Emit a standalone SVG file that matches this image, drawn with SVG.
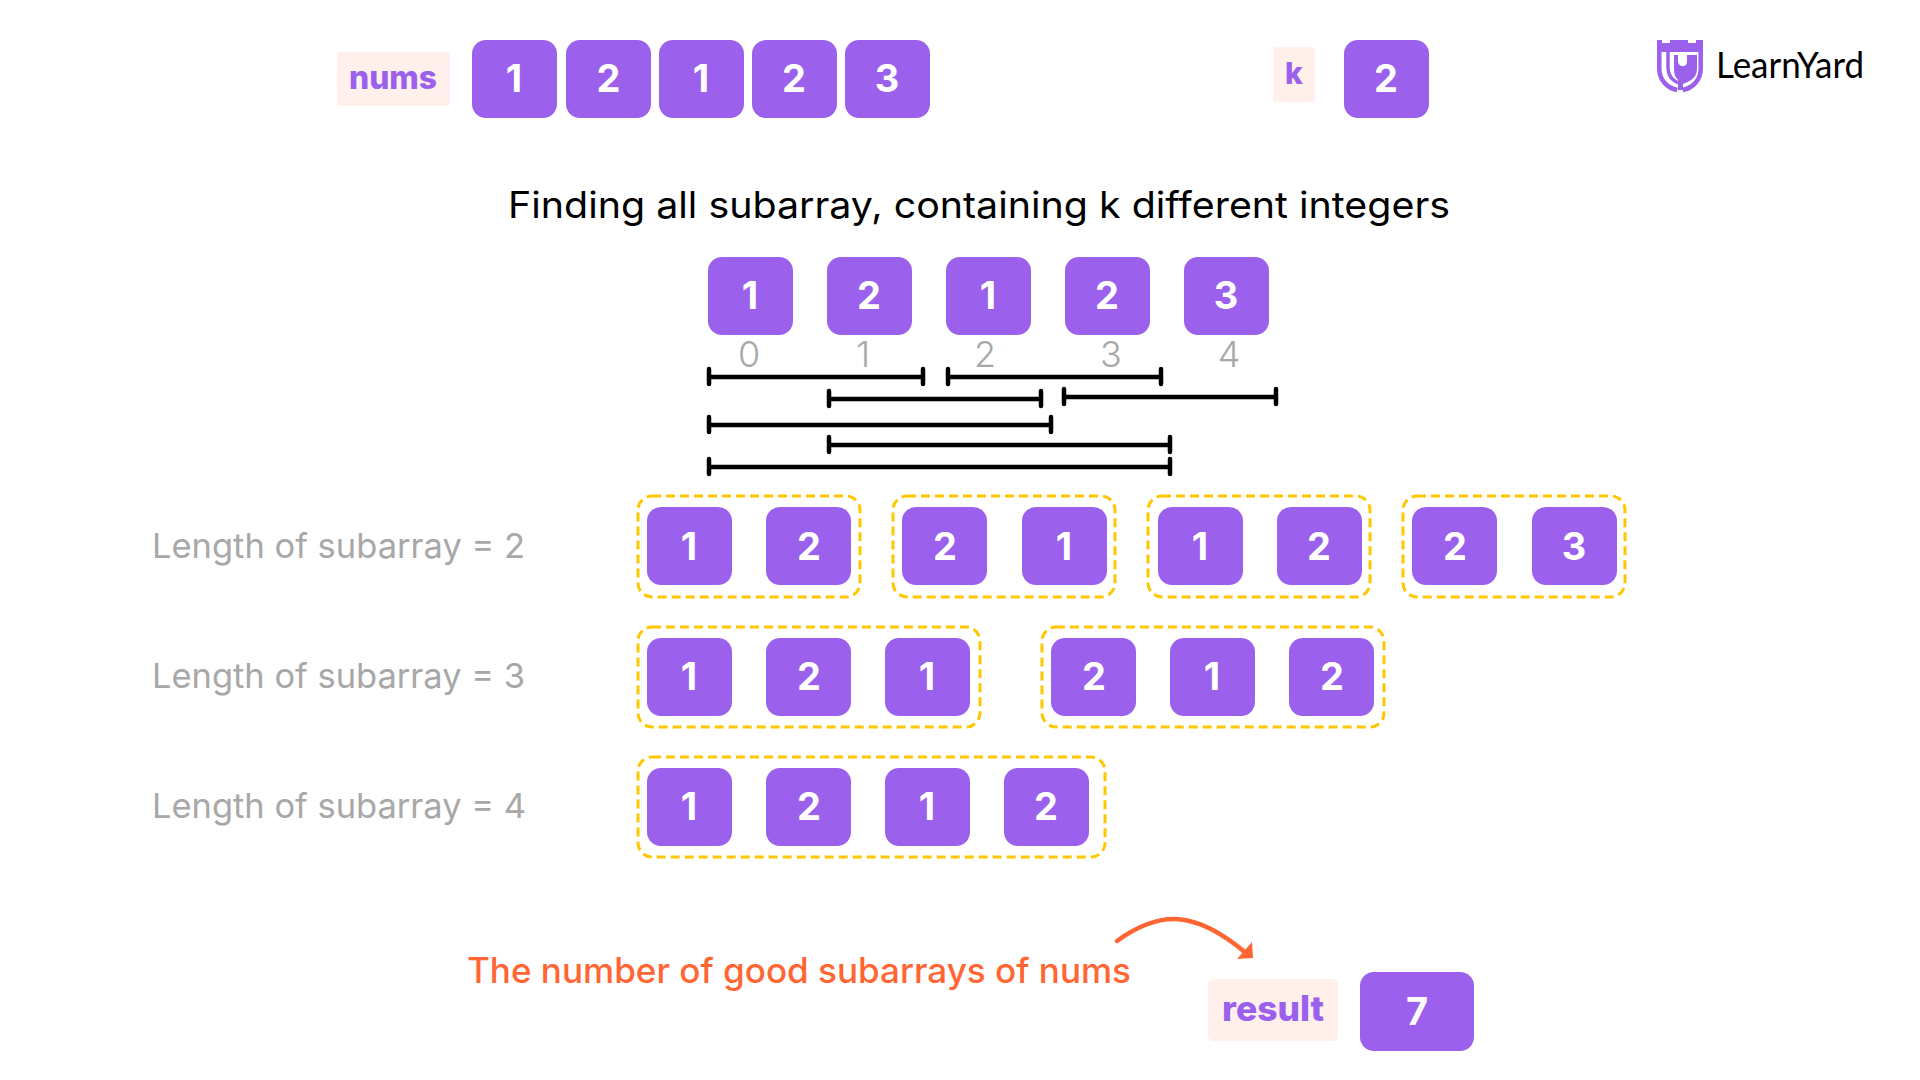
<svg xmlns="http://www.w3.org/2000/svg" width="1920" height="1080" viewBox="0 0 1920 1080">
<defs><style>
.b{fill:#9B60EC}
.d{font:700 38px Inter,"Liberation Sans",sans-serif;fill:#fff;text-anchor:middle}
.l{fill:#FFF0EC}
.t{font-family:Inter,"Liberation Sans",sans-serif;font-weight:800;fill:#9B60EC;text-anchor:middle}
.g{font:400 34px Inter,"Liberation Sans",sans-serif;fill:#A8A8A8}
.i{font:300 36px Inter,"Liberation Sans",sans-serif;fill:#A8A8A8;text-anchor:middle}
.o{fill:none;stroke:#FFC700;stroke-width:3;stroke-dasharray:9 5}
.k{stroke:#000;stroke-width:4.5;stroke-linecap:round;fill:none}
</style></defs>
<g id="nums"><rect class="l" x="337" y="52" width="113" height="54" rx="3"/><text class="t" x="393" y="89" font-size="32" textLength="88" lengthAdjust="spacingAndGlyphs">nums</text></g>
<g id="top-array">
<rect class="b" x="472" y="40" width="85" height="78" rx="14"/><text class="d" x="514" y="92">1</text>
<rect class="b" x="566" y="40" width="85" height="78" rx="14"/><text class="d" x="608.500" y="92">2</text>
<rect class="b" x="659" y="40" width="85" height="78" rx="14"/><text class="d" x="701" y="92">1</text>
<rect class="b" x="752" y="40" width="85" height="78" rx="14"/><text class="d" x="794" y="92">2</text>
<rect class="b" x="845" y="40" width="85" height="78" rx="14"/><text class="d" x="887" y="92">3</text>
</g>
<g id="k"><rect class="l" x="1273" y="47" width="42" height="55" rx="3"/><text class="t" x="1294" y="84" font-size="30">k</text></g>
<g id="k-value"><rect class="b" x="1344" y="40" width="85" height="78" rx="14"/><text class="d" x="1386" y="92">2</text></g>
<g id="logo">
<path fill="#9B60EC" d="M1657 40h5v3h8v-3h18v3h8v-3h7v12h-46z"/>
<path fill="none" stroke="#9B60EC" stroke-width="4.500" d="M1659.300 50v19c0 11 8 19 18 21M1700.700 50v19c0 11-8 19-18 21"/>
<path fill="none" stroke="#9B60EC" stroke-width="3.500" d="M1668 52v16c0 7 4 12 10 15"/>
<path fill="#9B60EC" d="M1674 55h4v6c0 3 2 5 5 5s4-2 4-5v-6h10v14c0 8-6 12-12 14l-2 1v6h-5v-10c-3-3-4-6-4-11z"/>
<text x="1716" y="78" font-family="Lato,sans-serif" font-size="36" fill="#000" textLength="148" lengthAdjust="spacingAndGlyphs">LearnYard</text>
</g>
<text id="title" x="508" y="218" font-family="Inter,sans-serif" font-size="37" fill="#000" textLength="942" lengthAdjust="spacingAndGlyphs">Finding all subarray, containing k different integers</text>
<g id="array">
<rect class="b" x="708" y="257" width="85" height="78" rx="14"/><text class="d" x="750" y="309">1</text>
<rect class="b" x="827" y="257" width="85" height="78" rx="14"/><text class="d" x="869" y="309">2</text>
<rect class="b" x="946" y="257" width="85" height="78" rx="14"/><text class="d" x="988" y="309">1</text>
<rect class="b" x="1065" y="257" width="85" height="78" rx="14"/><text class="d" x="1107" y="309">2</text>
<rect class="b" x="1184" y="257" width="85" height="78" rx="14"/><text class="d" x="1226" y="309">3</text>
<text class="i" x="749" y="367">0</text><text class="i" x="863" y="367">1</text><text class="i" x="985" y="367">2</text><text class="i" x="1111" y="367">3</text><text class="i" x="1229" y="367">4</text>
</g>
<g id="connectors" class="k">
<path d="M709 377H923M709 369v15M923 369v15"/>
<path d="M948 377H1161M948 369v15M1161 369v15"/>
<path d="M829 399H1041M829 391v15M1041 391v15"/>
<path d="M1064 397H1276M1064 389v15M1276 389v15"/>
<path d="M709 425H1051M709 417v15M1051 417v15"/>
<path d="M829 445H1170M829 437v15M1170 437v15"/>
<path d="M709 467H1170M709 459v15M1170 459v15"/>
</g>
<g id="len2">
<text class="g" x="152" y="558" textLength="373" lengthAdjust="spacingAndGlyphs">Length of subarray = 2</text>
<rect class="o" x="638" y="496" width="222" height="101" rx="14"/>
<rect class="b" x="647" y="507" width="85" height="78" rx="14"/><text class="d" x="689" y="560">1</text>
<rect class="b" x="766" y="507" width="85" height="78" rx="14"/><text class="d" x="809" y="560">2</text>
<rect class="o" x="893" y="496" width="222" height="101" rx="14"/>
<rect class="b" x="902" y="507" width="85" height="78" rx="14"/><text class="d" x="945" y="560">2</text>
<rect class="b" x="1022" y="507" width="85" height="78" rx="14"/><text class="d" x="1064" y="560">1</text>
<rect class="o" x="1148" y="496" width="222" height="101" rx="14"/>
<rect class="b" x="1158" y="507" width="85" height="78" rx="14"/><text class="d" x="1200" y="560">1</text>
<rect class="b" x="1277" y="507" width="85" height="78" rx="14"/><text class="d" x="1319" y="560">2</text>
<rect class="o" x="1403" y="496" width="222" height="101" rx="14"/>
<rect class="b" x="1412" y="507" width="85" height="78" rx="14"/><text class="d" x="1455" y="560">2</text>
<rect class="b" x="1532" y="507" width="85" height="78" rx="14"/><text class="d" x="1574" y="560">3</text>
</g>
<g id="len3">
<text class="g" x="152" y="688" textLength="373" lengthAdjust="spacingAndGlyphs">Length of subarray = 3</text>
<rect class="o" x="638" y="627" width="342" height="100" rx="14"/>
<rect class="b" x="647" y="638" width="85" height="78" rx="14"/><text class="d" x="689" y="690">1</text>
<rect class="b" x="766" y="638" width="85" height="78" rx="14"/><text class="d" x="809" y="690">2</text>
<rect class="b" x="885" y="638" width="85" height="78" rx="14"/><text class="d" x="927" y="690">1</text>
<rect class="o" x="1042" y="627" width="342" height="100" rx="14"/>
<rect class="b" x="1051" y="638" width="85" height="78" rx="14"/><text class="d" x="1094" y="690">2</text>
<rect class="b" x="1170" y="638" width="85" height="78" rx="14"/><text class="d" x="1212" y="690">1</text>
<rect class="b" x="1289" y="638" width="85" height="78" rx="14"/><text class="d" x="1332" y="690">2</text>
</g>
<g id="len4">
<text class="g" x="152" y="818" textLength="374" lengthAdjust="spacingAndGlyphs">Length of subarray = 4</text>
<rect class="o" x="638" y="757" width="467" height="100" rx="14"/>
<rect class="b" x="647" y="768" width="85" height="78" rx="14"/><text class="d" x="689" y="820">1</text>
<rect class="b" x="766" y="768" width="85" height="78" rx="14"/><text class="d" x="809" y="820">2</text>
<rect class="b" x="885" y="768" width="85" height="78" rx="14"/><text class="d" x="927" y="820">1</text>
<rect class="b" x="1004" y="768" width="85" height="78" rx="14"/><text class="d" x="1046" y="820">2</text>
</g>
<text id="note" x="467" y="983" font-family="Inter,sans-serif" font-size="35" font-weight="500" fill="#FF6633" textLength="664" lengthAdjust="spacingAndGlyphs">The number of good subarrays of nums</text>
<g id="arrow"><path d="M1117 941C1160 910 1195 910 1246 953" fill="none" stroke="#FF6633" stroke-width="4.500" stroke-linecap="round"/><path d="M1252 942L1237 959L1253 958z" fill="#FF6633"/></g>
<g id="result"><rect class="l" x="1208" y="979" width="130" height="62" rx="5"/><text class="t" x="1273" y="1021" font-size="35" textLength="102" lengthAdjust="spacingAndGlyphs">result</text></g>
<g id="result-value"><rect class="b" x="1360" y="972" width="114" height="79" rx="14"/><text class="d" x="1417" y="1025">7</text></g>
</svg>
